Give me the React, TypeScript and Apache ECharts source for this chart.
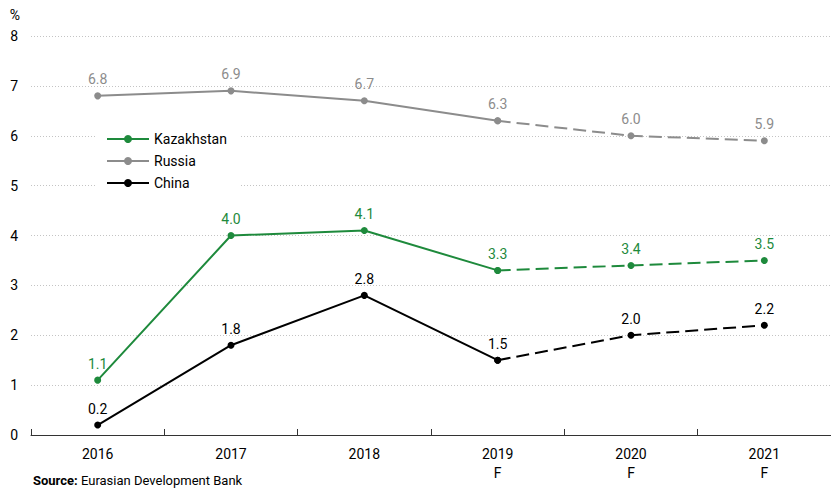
import React, { useEffect, useRef } from "react";
import * as echarts from "echarts";

const categories = ["2016", "2017", "2018", "2019\nF", "2020\nF", "2021\nF"];
const kazakhstan = [1.1, 4.0, 4.1, 3.3, 3.4, 3.5];
const russia = [6.8, 6.9, 6.7, 6.3, 6.0, 5.9];
const china = [0.2, 1.8, 2.8, 1.5, 2.0, 2.2];
const forecastStart = 3;

const FONT = "Roboto, 'Noto Sans', sans-serif";

function split(vals: number[]) {
  const solid = vals.map((v, i) => (i <= forecastStart ? v : null));
  const dashed = vals.map((v, i) => (i >= forecastStart ? v : null));
  return { solid, dashed };
}

export default function App() {
  const ref = useRef<HTMLDivElement>(null);
  useEffect(() => {
    if (!ref.current) return;
    const chart = echarts.init(ref.current, undefined, { renderer: "svg" });
    const defs = [
      { name: "Kazakhstan", data: kazakhstan, color: "#1e8a3c" },
      { name: "Russia", data: russia, color: "#8c8c8c" },
      { name: "China", data: china, color: "#000000" },
    ];
    const series: any[] = [];
    defs.forEach((d) => {
      const { solid, dashed } = split(d.data);
      const common = {
        type: "line",
        symbol: "circle",
        symbolSize: 7,
        color: d.color,
        itemStyle: { color: d.color },
        z: 3,
      };
      const label = {
        show: true,
        position: "top",
        distance: 6,
        color: d.color,
        fontFamily: FONT,
        fontSize: 14,
      };
      series.push({
        ...common,
        name: d.name,
        data: solid,
        lineStyle: { color: d.color, width: 2 },
        label: { ...label, formatter: (p: any) => p.value.toFixed(1) },
      });
      series.push({
        ...common,
        name: d.name + "_f",
        data: dashed,
        lineStyle: { color: d.color, width: 2, type: [13, 6] },
        label: {
          ...label,
          formatter: (p: any) => (p.dataIndex > forecastStart ? p.value.toFixed(1) : ""),
        },
      });
    });
    chart.setOption({
      animation: false,
      textStyle: { fontFamily: FONT },
      grid: { left: 31, right: -4, top: 36, bottom: 56, containLabel: false },
      legend: {
        data: defs.map((d) => d.name),
        orient: "vertical",
        left: 96,
        top: 128,
        itemWidth: 42,
        itemHeight: 10,
        itemGap: 8,
        padding: [4, 14, 8, 10],
        backgroundColor: "#ffffff",
        textStyle: { fontFamily: FONT, fontSize: 14, color: "#000" },
      },
      xAxis: {
        type: "category",
        data: categories,
        boundaryGap: true,
        axisLine: { lineStyle: { color: "#333", width: 1 } },
        axisTick: { show: true, inside: true, length: 6, lineStyle: { color: "#333" } },
        axisLabel: { fontFamily: FONT, fontSize: 14, color: "#000", margin: 9, lineHeight: 19 },
      },
      yAxis: {
        type: "value",
        min: 0,
        max: 8,
        interval: 1,
        name: "%",
        nameLocation: "end",
        nameGap: 14,
        nameTextStyle: { fontFamily: FONT, fontSize: 14, color: "#000", align: "right", padding: [0, 11, 0, 0] },
        axisLine: { show: false },
        axisTick: { show: false },
        axisLabel: { fontFamily: FONT, fontSize: 14, color: "#000", margin: 13 },
        splitLine: { lineStyle: { color: "#c4c4c4", type: [1, 2], width: 1 } },
      },
      graphic: [
        {
          type: "text",
          left: 33,
          top: 474,
          style: {
            text: "{b|Source:} Eurasian Development Bank",
            rich: {
              b: { fontWeight: "bold", fontFamily: FONT, fontSize: 13, fill: "#000" },
            },
            fontFamily: FONT,
            fontSize: 13,
            fill: "#000",
          },
        },
      ],
      series,
    });
    return () => chart.dispose();
  }, []);
  return <div ref={ref} style={{ width: 831, height: 491, position: "absolute", left: 0, top: 0 }} />;
}
